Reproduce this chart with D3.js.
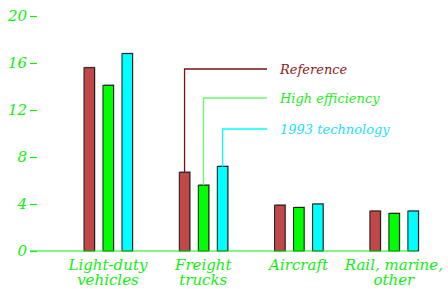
<!DOCTYPE html>
<html>
<head>
<meta charset="utf-8">
<script src="https://cdn.jsdelivr.net/npm/d3@7"></script>
<style>
  body { margin: 0; background: #fff; }
  text { font-family: "DejaVu Serif", serif; font-style: italic; }
</style>
</head>
<body>
<div id="chart"></div>
<script>
const categories = [["Light-duty", "vehicles"], ["Freight", "trucks"], ["Aircraft"], ["Rail, marine,", "other"]];
const series = ["Reference", "High efficiency", "1993 technology"];
const values = {
  "Reference":       [15.6, 6.7, 3.9, 3.4],
  "High efficiency": [14.1, 5.6, 3.7, 3.2],
  "1993 technology": [16.8, 7.2, 4.0, 3.4]
};
const yTicks = [0, 4, 8, 12, 16, 20];

const width = 448, height = 289;
const barColor = { "Reference": "#c04848", "High efficiency": "#00ff00", "1993 technology": "#00ffff" };
const lineColor = { "Reference": "#7a1010", "High efficiency": "#66ff66", "1993 technology": "#00ffff" };
const labelColor = { "Reference": "#8b1c1c", "High efficiency": "#22ee22", "1993 technology": "#22ddff" };
const green = "#11ee11";

const svg = d3.select("#chart").append("svg")
  .attr("width", width)
  .attr("height", height);

const y = d3.scaleLinear().domain([0, 20]).range([251, 16]);
const x0 = d3.scaleBand().domain(d3.range(categories.length)).range([60.3, 441.5]);
const x1 = d3.scaleBand().domain(series).range([23.7, 72.2]).paddingInner(0.447);

// bars
const groups = svg.selectAll("g.group")
  .data(categories)
  .join("g")
  .attr("class", "group")
  .attr("transform", (d, i) => `translate(${x0(i)},0)`);

series.forEach(s => {
  groups.append("rect")
    .attr("x", x1(s) + 1)
    .attr("y", (d, i) => y(values[s][i]) - 1)
    .attr("width", x1.bandwidth())
    .attr("height", (d, i) => y(0) - y(values[s][i]) + 1)
    .attr("fill", "#aaa");
  groups.append("rect")
    .attr("x", x1(s))
    .attr("y", (d, i) => y(values[s][i]))
    .attr("width", x1.bandwidth())
    .attr("height", (d, i) => y(0) - y(values[s][i]))
    .attr("fill", barColor[s])
    .attr("stroke", "#1a1a1a")
    .attr("stroke-width", 1);
});

// baseline
svg.append("line")
  .attr("x1", 30).attr("x2", 418)
  .attr("y1", y(0)).attr("y2", y(0))
  .attr("stroke", green)
  .attr("stroke-width", 1.2);

// y axis
const yAxis = svg.append("g")
  .attr("transform", "translate(37,0)")
  .call(d3.axisLeft(y).tickValues(yTicks).tickSize(7).tickPadding(3));
yAxis.select(".domain").remove();
yAxis.selectAll(".tick line").attr("stroke", green).attr("stroke-width", 1.2);
yAxis.selectAll(".tick text")
  .attr("fill", green)
  .style("font-size", "15px")
  .style("font-family", "DejaVu Serif")
  .style("font-style", "italic");

// category labels
const catLabels = svg.selectAll("text.cat")
  .data(categories)
  .join("text")
  .attr("class", "cat")
  .attr("text-anchor", "middle")
  .attr("fill", green)
  .style("font-size", "15px");
catLabels.each(function (d, i) {
  d3.select(this).selectAll("tspan")
    .data(d)
    .join("tspan")
    .attr("x", x0(i) + x0.bandwidth() / 2)
    .attr("y", (t, j) => 270 + j * 15)
    .text(t => t);
});

// legend callouts from the freight trucks bars
const legendY = { "Reference": 69, "High efficiency": 98, "1993 technology": 129 };
series.forEach(s => {
  const cx = x0(1) + x1(s) + x1.bandwidth() / 2;
  svg.append("path")
    .attr("d", `M${cx},${y(values[s][1])}V${legendY[s]}H267`)
    .attr("fill", "none")
    .attr("stroke", lineColor[s])
    .attr("stroke-width", 1.3);
  svg.append("text")
    .attr("x", 280)
    .attr("y", legendY[s])
    .attr("dy", "0.35em")
    .attr("fill", labelColor[s])
    .style("font-size", "13px")
    .text(s);
});
</script>
</body>
</html>
